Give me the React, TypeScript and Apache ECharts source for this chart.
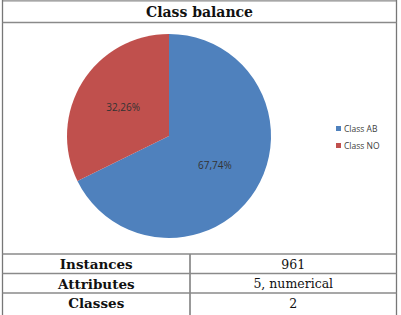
import React, { useEffect, useRef } from "react";
import * as echarts from "echarts";

const classNames = ["Class AB", "Class NO"];
const classShares = [67.74, 32.26];
const classColors = ["#4F81BD", "#C0504D"];

const tableTitle = "Class balance";
const rowLabels = ["Instances", "Attributes", "Classes"];
const rowValues = ["961", "5, numerical", "2"];

const W = 401;
const H = 315;

export default function App() {
  const ref = useRef<HTMLDivElement>(null);

  useEffect(() => {
    if (!ref.current) return;
    const chart = echarts.init(ref.current, null, { renderer: "svg" });

    const left = 2.5;
    const right = 396.5;
    const divX = 190;
    const titleLineY = 22.5;
    const rowTops = [254, 273.5, 293];
    const rowH = 19.5;
    const serif = "'DejaVu Serif', 'Liberation Serif', serif";
    const lineStyle = { stroke: "#8a8a8a", lineWidth: 1.3 };

    const graphics: any[] = [
      { type: "line", shape: { x1: left, y1: 0.8, x2: right, y2: 0.8 }, style: lineStyle },
      { type: "line", shape: { x1: left, y1: 0, x2: left, y2: H }, style: { stroke: "#777", lineWidth: 1.3 } },
      { type: "line", shape: { x1: right, y1: 0, x2: right, y2: H }, style: { stroke: "#777", lineWidth: 1.3 } },
      { type: "line", shape: { x1: left, y1: titleLineY, x2: right, y2: titleLineY }, style: lineStyle },
      { type: "line", shape: { x1: divX, y1: rowTops[0], x2: divX, y2: H }, style: { stroke: "#555", lineWidth: 1.2 } },
      {
        type: "text",
        x: (left + right) / 2,
        y: 12,
        style: {
          text: tableTitle,
          font: `bold 14px ${serif}`,
          fill: "#111",
          align: "center",
          verticalAlign: "middle",
        },
      },
    ];

    rowTops.forEach((top, i) => {
      graphics.push({
        type: "line",
        shape: { x1: left, y1: top, x2: right, y2: top },
        style: lineStyle,
      });
      graphics.push({
        type: "text",
        x: (left + divX) / 2,
        y: top + rowH / 2 + 0.5,
        style: {
          text: rowLabels[i],
          font: `bold 13.5px ${serif}`,
          fill: "#111",
          align: "center",
          verticalAlign: "middle",
        },
      });
      graphics.push({
        type: "text",
        x: (divX + right) / 2,
        y: top + rowH / 2 + 0.5,
        style: {
          text: rowValues[i],
          font: `12.5px ${serif}`,
          fill: "#111",
          align: "center",
          verticalAlign: "middle",
        },
      });
    });

    chart.setOption({
      animation: false,
      color: classColors,
      legend: {
        orient: "vertical",
        left: 331,
        top: 119,
        icon: "rect",
        itemWidth: 5,
        itemHeight: 5,
        itemGap: 8,
        data: classNames,
        textStyle: { fontFamily: "'Open Sans', sans-serif", fontSize: 8.5, color: "#404040", padding: [0, 0, 0, -2] },
      },
      series: [
        {
          type: "pie",
          center: [169, 136],
          radius: 102,
          startAngle: 90,
          clockwise: true,
          data: classNames.map((name, i) => ({ name, value: classShares[i] })),
          label: {
            show: true,
            position: "inside",
            formatter: (p: any) => p.value.toFixed(2).replace(".", ",") + "%",
            fontFamily: "'Open Sans', sans-serif",
            fontSize: 10,
            color: "#333",
          },
          labelLine: { show: false },
          itemStyle: { borderWidth: 0 },
          emphasis: { disabled: true },
        },
      ],
      graphic: graphics,
    });

    return () => chart.dispose();
  }, []);

  return (
    <div
      ref={ref}
      style={{ position: "fixed", left: 0, top: 0, width: W, height: H, background: "#fff" }}
    />
  );
}
